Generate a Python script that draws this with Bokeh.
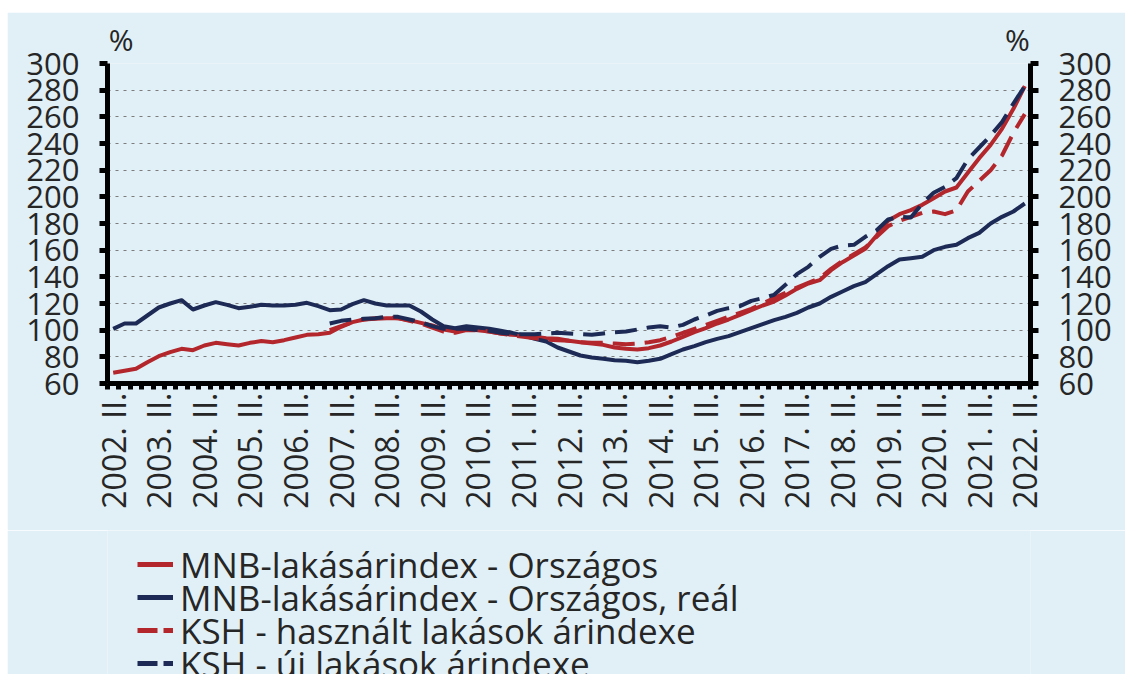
import math
from bokeh.plotting import figure
from bokeh.layouts import column
from bokeh.models import (FixedTicker, LinearAxis, Legend, LegendItem, Range1d)
from bokeh.embed import file_html
from bokeh.resources import INLINE

# ---------------- data ----------------
years = list(range(2002, 2023))
quarters = [f"{y}Q{q}" for y in range(2002, 2023) for q in range(1, 5)]
quarters = quarters[quarters.index("2002Q2"):quarters.index("2022Q2") + 1]
tick_labels = [f"{y}. II." for y in years]
ksh_start = "2007Q1"
unit_label = "%"

mnb_nominal = [68, 69.5, 71, 76, 80.5, 83.5, 86, 85, 88.5, 90.5, 89.5, 88.5, 90.5, 91.8, 91, 92.5,
               94.5, 96.5, 97, 98, 102.5, 106, 108, 108.5, 109, 109, 107.5, 105.5, 103.5, 100.5,
               99, 101, 100, 99, 97.5, 96.5, 96, 95, 94, 93.5, 92, 91, 90, 89, 87, 86, 85.5, 86.5,
               88.5, 91.5, 95, 98.5, 101.5, 105, 108, 111.5, 115, 118.5, 121.5, 126, 131, 135,
               137.5, 145, 151, 156, 161, 171, 182, 187, 190, 194, 199, 204, 207, 218, 229, 239,
               251, 266, 283]
mnb_real = [101, 105, 105, 111, 117, 120, 122.5, 115.5, 118.5, 121, 119, 116.5, 117.5, 119, 118.5,
            118.5, 119, 120.5, 118, 115, 115.5, 119.5, 122.5, 120, 118.5, 118.5, 118.5, 114, 108,
            103, 101.5, 103, 102, 101, 99.5, 98, 96, 93.5, 91.5, 87, 84, 81, 79.5, 78.5, 77.5, 77,
            76, 77, 78.5, 82, 85.5, 88, 91, 93.5, 95.5, 98.5, 101.5, 104.5, 107.5, 110, 113, 117,
            120, 125, 129, 133, 136, 142, 148, 153, 154, 155, 160, 162.5, 164, 169, 173, 180, 185,
            189, 195]
ksh_used = [100, 103, 106, 108, 109, 109.5, 109, 107, 105, 102, 99, 98, 100, 100, 99, 97.5, 96, 95,
            94, 93, 92.5, 92, 91, 90.5, 90.5, 90, 89.5, 90, 91, 92.5, 95, 98, 101, 104, 107, 110,
            113, 116, 120, 124, 128, 132, 135.5, 139, 146, 152, 157, 162, 170, 178, 182, 185, 188,
            189, 187, 190, 204, 212, 220, 231, 248, 262]
ksh_new = [105, 107, 108, 108.5, 109, 110, 110, 108, 106, 103, 101, 101, 101, 100, 99.5, 98, 97,
           97, 97, 97.5, 98, 97.5, 97, 96.5, 97.5, 98.5, 99, 100.5, 102, 103, 102, 104, 108, 111,
           114.5, 116.5, 118, 122, 124, 126.5, 134, 142, 147.5, 155, 161, 163.5, 164, 170, 175,
           183, 185, 184.5, 195, 203, 207.5, 214, 228, 237, 246, 256, 270, 283]

series_names = ["MNB-lakásárindex - Országos", "MNB-lakásárindex - Országos, reál",
                "KSH - használt lakások árindexe", "KSH - új lakások árindexe"]
y_ticks = list(range(60, 301, 20))

# ---------------- styling ----------------
BG = "#e1f0f6"
RED = "#b3262c"
NAVY = "#1d2a55"
TXT = "#262626"
FONT = "Open Sans"
styles = [dict(line_color=RED), dict(line_color=NAVY),
          dict(line_color=RED, line_dash="22 10"), dict(line_color=NAVY, line_dash="22 10")]
legend_styles = [dict(line_color=RED), dict(line_color=NAVY),
                 dict(line_color=RED, line_dash="20 6"), dict(line_color=NAVY, line_dash="20 6")]

x_all = list(range(len(quarters)))
k0 = quarters.index(ksh_start)
x_ksh = list(range(k0, k0 + len(ksh_used)))
n = len(quarters)

p = figure(width=1118, height=518, output_backend="svg", toolbar_location=None,
           x_range=Range1d(-0.5, n - 0.5), y_range=Range1d(60, 300),
           min_border_left=100, min_border_right=95, min_border_top=51, min_border_bottom=147)
p.margin = (12, 0, 0, 7)
p.background_fill_color = BG
p.border_fill_color = BG
p.outline_line_color = None
p.xgrid.visible = False
p.ygrid.ticker = FixedTicker(ticks=y_ticks)
p.ygrid.grid_line_color = "#7d7d7d"
p.ygrid.grid_line_dash = "3 5"
p.ygrid.grid_line_width = 1

for xs, ys, st in zip([x_all, x_all, x_ksh, x_ksh],
                      [mnb_nominal, mnb_real, ksh_used, ksh_new], styles):
    p.line(xs, ys, line_width=4, line_join="round", **st)

# x axis
xa = p.xaxis[0]
label_pos = [quarters.index(f"{y}Q2") for y in years]
xa.ticker = FixedTicker(ticks=label_pos, minor_ticks=[i - 0.5 for i in range(n + 1)])
xa.major_label_overrides = {pos: lab for pos, lab in zip(label_pos, tick_labels)}
xa.major_label_orientation = math.pi / 2
xa.major_tick_line_color = None
xa.major_tick_out = 6
xa.major_tick_in = 0
xa.minor_tick_line_color = "black"
xa.minor_tick_line_width = 5
xa.minor_tick_out = 6
xa.minor_tick_in = 0
xa.axis_line_width = 5
xa.axis_line_color = "black"
xa.major_label_standoff = 3

def style_y(ax):
    ax.ticker = FixedTicker(ticks=y_ticks)
    ax.axis_line_width = 5
    ax.axis_line_color = "black"
    ax.major_tick_line_width = 5
    ax.major_tick_out = 8
    ax.major_tick_in = 0
    ax.minor_tick_line_color = None
    ax.major_label_standoff = 20

ya = p.yaxis[0]
style_y(ya)
yr = LinearAxis()
style_y(yr)
p.add_layout(yr, "right")

# "%" unit labels via a bare top axis
ta = LinearAxis(ticker=FixedTicker(ticks=[0.7, n - 1.65]),
                major_label_overrides={0.7: unit_label, n - 1.65: unit_label})
ta.axis_line_color = None
ta.major_tick_line_color = None
ta.minor_tick_line_color = None
ta.major_tick_out = 0
ta.major_tick_in = 0
ta.major_label_standoff = 4
ta.major_label_text_font = FONT
ta.major_label_text_font_size = "30px"
ta.major_label_text_color = TXT
p.add_layout(ta, "above")

for ax in (ya, yr):
    ax.major_label_text_font = FONT
    ax.major_label_text_font_size = "31px"
    ax.major_label_text_color = TXT
xa.major_label_text_font = FONT
xa.major_label_text_font_size = "32px"
xa.major_label_text_color = TXT

# ---------------- legend strip ----------------
lg = figure(width=1118, height=144, output_backend="svg", toolbar_location=None,
            x_range=Range1d(0, 1), y_range=Range1d(0, 1),
            min_border_left=100, min_border_right=95, min_border_top=0, min_border_bottom=0,
            x_axis_type=None, y_axis_type=None)
lg.margin = (0, 0, 0, 7)
lg.background_fill_color = BG
lg.border_fill_color = BG
lg.outline_line_color = None
lg.grid.visible = False
leg_renderers = [lg.line([float("nan")], [float("nan")], line_width=5, **st)
                 for st in legend_styles]

row_bottoms = [85, 52, 19, -14]   # screen offsets of each legend row inside the strip
for name, r, vy in zip(series_names, leg_renderers, row_bottoms):
    legend = Legend(items=[LegendItem(label=name, renderers=[r])], location=(30, vy))
    legend.background_fill_alpha = 0
    legend.border_line_alpha = 0
    legend.label_text_font = FONT
    legend.label_text_font_size = "35px"
    legend.label_text_color = TXT
    legend.glyph_width = 36
    legend.glyph_height = 50
    legend.label_height = 50
    legend.spacing = 0
    legend.padding = 0
    legend.margin = 0
    legend.label_standoff = 7
    lg.add_layout(legend, "center")

layout = column(p, lg, spacing=0)
open("out.html", "w").write(file_html(layout, INLINE))
